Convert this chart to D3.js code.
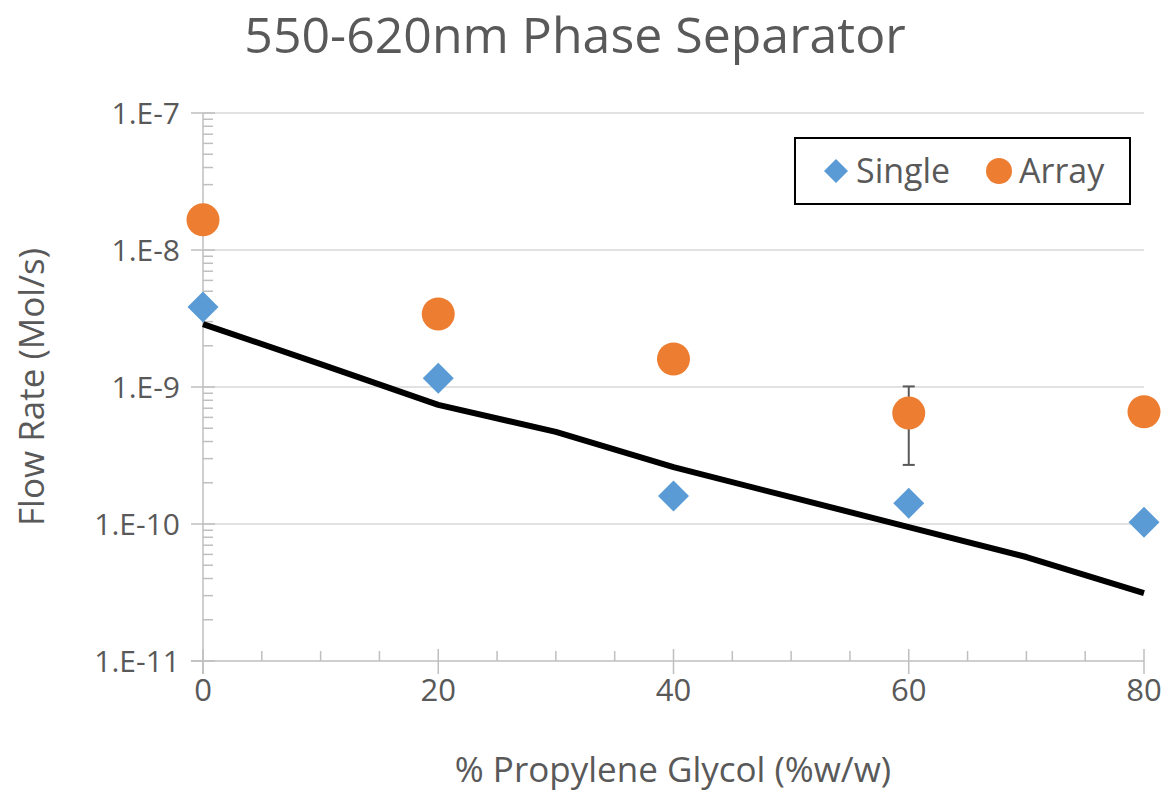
<!DOCTYPE html>
<html>
<head>
<meta charset="utf-8">
<script src="https://cdn.jsdelivr.net/npm/d3@7"></script>
<style>
  html, body { margin: 0; padding: 0; background: #fff; }
  svg text { font-family: "Open Sans", "Noto Sans", sans-serif; fill: #595959; }
</style>
</head>
<body>
<svg id="chart" width="1167" height="792"></svg>
<script>
// Flow rate vs. propylene glycol content
const glycol = [0, 20, 40, 60, 80];
const single = [3.84e-9, 1.16e-9, 1.6e-10, 1.42e-10, 1.03e-10];
const array = [1.66e-8, 3.41e-9, 1.6e-9, 6.45e-10, 6.6e-10];
// error bar on the array measurement at 60 %
const arrayErrX = [60];
const arrayErrLow = [2.7e-10];
const arrayErrHigh = [1.01e-9];
// model curve
const modelX = [0, 10, 20, 30, 40, 50, 60, 70, 80];
const modelY = [2.88e-9, 1.47e-9, 7.4e-10, 4.7e-10, 2.6e-10, 1.57e-10, 9.5e-11, 5.74e-11, 3.13e-11];
const yTicks = [1e-11, 1e-10, 1e-9, 1e-8, 1e-7];
const yTickLabels = ["1.E-11", "1.E-10", "1.E-9", "1.E-8", "1.E-7"];
const xTicks = [0, 20, 40, 60, 80];

const svg = d3.select("#chart");
const plotLeft = 203, plotRight = 1144, plotTop = 113, plotBottom = 661;

const x = d3.scaleLinear().domain([0, 80]).range([plotLeft, plotRight]);
const y = d3.scaleLog().domain([1e-11, 1e-7]).range([plotBottom, plotTop]);

const axisColor = "#bfbfbf";
const gridColor = "#d9d9d9";

// horizontal gridlines at each decade
svg.append("g").selectAll("line").data(yTicks.slice(1)).join("line")
  .attr("x1", plotLeft).attr("x2", plotRight)
  .attr("y1", d => y(d)).attr("y2", d => y(d))
  .attr("stroke", gridColor).attr("stroke-width", 1.5);

// y axis with minor log ticks
const yAxis = svg.append("g");
yAxis.append("line").attr("x1", plotLeft).attr("x2", plotLeft)
  .attr("y1", plotTop).attr("y2", plotBottom + 13)
  .attr("stroke", axisColor).attr("stroke-width", 1.5);
const minorY = [];
for (let e = -11; e < -7; e++) for (let k = 2; k <= 9; k++) minorY.push(k * Math.pow(10, e));
yAxis.selectAll("line.minor").data(minorY).join("line").attr("class", "minor")
  .attr("x1", plotLeft).attr("x2", plotLeft + 10)
  .attr("y1", d => y(d)).attr("y2", d => y(d))
  .attr("stroke", axisColor).attr("stroke-width", 1.5);
yAxis.selectAll("line.major").data(yTicks).join("line").attr("class", "major")
  .attr("x1", plotLeft - 12).attr("x2", plotLeft + 12)
  .attr("y1", d => y(d)).attr("y2", d => y(d))
  .attr("stroke", axisColor).attr("stroke-width", 1.5);
yAxis.selectAll("text").data(yTicks).join("text")
  .attr("x", 180).attr("y", d => y(d)).attr("dy", "0.35em")
  .attr("text-anchor", "end").attr("font-size", 30)
  .text((d, i) => yTickLabels[i]);

// x axis with minor ticks every 5
const xAxis = svg.append("g");
xAxis.append("line").attr("x1", plotLeft - 12).attr("x2", plotRight)
  .attr("y1", plotBottom).attr("y2", plotBottom)
  .attr("stroke", axisColor).attr("stroke-width", 1.5);
xAxis.selectAll("line.minor").data(d3.range(5, 80, 5).filter(v => v % 20 !== 0)).join("line").attr("class", "minor")
  .attr("x1", d => x(d)).attr("x2", d => x(d))
  .attr("y1", plotBottom - 10).attr("y2", plotBottom)
  .attr("stroke", axisColor).attr("stroke-width", 1.5);
xAxis.selectAll("line.major").data(xTicks).join("line").attr("class", "major")
  .attr("x1", d => x(d)).attr("x2", d => x(d))
  .attr("y1", plotBottom - 12).attr("y2", plotBottom + 13)
  .attr("stroke", axisColor).attr("stroke-width", 1.5);
xAxis.selectAll("text").data(xTicks).join("text")
  .attr("x", d => x(d)).attr("y", 701)
  .attr("text-anchor", "middle").attr("font-size", 31)
  .text(d => d);

// model curve
svg.append("path")
  .datum(modelX.map((d, i) => [d, modelY[i]]))
  .attr("d", d3.line().x(d => x(d[0])).y(d => y(d[1])))
  .attr("fill", "none").attr("stroke", "#000").attr("stroke-width", 6)
  .attr("stroke-linejoin", "round");

// error bars
const errG = svg.append("g");
arrayErrX.forEach((xv, i) => {
  errG.append("line").attr("x1", x(xv)).attr("x2", x(xv))
    .attr("y1", y(arrayErrHigh[i])).attr("y2", y(arrayErrLow[i]))
    .attr("stroke", "#595959").attr("stroke-width", 2);
  [arrayErrHigh[i], arrayErrLow[i]].forEach(v => {
    errG.append("line").attr("x1", x(xv) - 6).attr("x2", x(xv) + 6)
      .attr("y1", y(v)).attr("y2", y(v))
      .attr("stroke", "#595959").attr("stroke-width", 2);
  });
});

const blue = "#5B9BD5", orange = "#ED7D31";
const diamond = (cx, cy, r) => `M${cx},${cy - r}L${cx + r},${cy}L${cx},${cy + r}L${cx - r},${cy}Z`;

// array points
svg.append("g").selectAll("circle").data(glycol).join("circle")
  .attr("cx", d => x(d)).attr("cy", (d, i) => y(array[i])).attr("r", 16.5)
  .attr("fill", orange);

// single points
svg.append("g").selectAll("path").data(glycol).join("path")
  .attr("d", (d, i) => diamond(x(d), y(single[i]), 15.5))
  .attr("fill", blue);

// title
svg.append("text").attr("x", 575).attr("y", 53)
  .attr("text-anchor", "middle").attr("font-size", 50)
  .text("550-620nm Phase Separator");

// axis titles
svg.append("text").attr("x", 673).attr("y", 782)
  .attr("text-anchor", "middle").attr("font-size", 35)
  .text("% Propylene Glycol (%w/w)");
svg.append("text")
  .attr("transform", "translate(44,387) rotate(-90)")
  .attr("text-anchor", "middle").attr("font-size", 35)
  .text("Flow Rate (Mol/s)");

// legend
const lg = svg.append("g");
lg.append("rect").attr("x", 795).attr("y", 138).attr("width", 335).attr("height", 66)
  .attr("fill", "#fff").attr("stroke", "#000").attr("stroke-width", 2);
lg.append("path").attr("d", diamond(836, 171, 12)).attr("fill", blue);
lg.append("text").attr("x", 856).attr("y", 171).attr("dy", "0.35em").attr("font-size", 34).text("Single");
lg.append("circle").attr("cx", 999).attr("cy", 171).attr("r", 13).attr("fill", orange);
lg.append("text").attr("x", 1019).attr("y", 171).attr("dy", "0.35em").attr("font-size", 34).text("Array");
</script>
</body>
</html>
